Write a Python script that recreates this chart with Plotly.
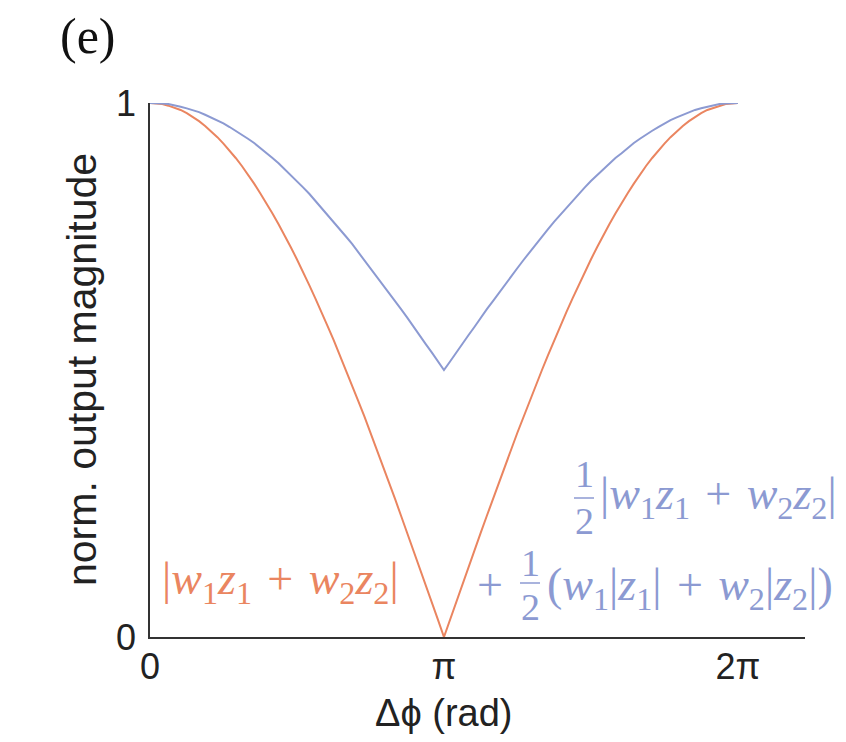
import plotly.graph_objects as go

# ---- data ----
dphi = [0.000, 0.065, 0.131, 0.196, 0.262, 0.327, 0.393, 0.458, 0.524, 0.589,
        0.654, 0.720, 0.785, 0.851, 0.916, 0.982, 1.047, 1.113, 1.178, 1.244,
        1.309, 1.374, 1.440, 1.505, 1.571, 1.636, 1.702, 1.767, 1.833, 1.898,
        1.963, 2.029, 2.094, 2.160, 2.225, 2.291, 2.356, 2.422, 2.487, 2.553,
        2.618, 2.683, 2.749, 2.814, 2.880, 2.945, 3.011, 3.076, 3.1416,
        3.207, 3.272, 3.338, 3.403, 3.469, 3.534, 3.600, 3.665, 3.731, 3.796,
        3.862, 3.927, 3.992, 4.058, 4.123, 4.189, 4.254, 4.320, 4.385, 4.451,
        4.516, 4.581, 4.647, 4.712, 4.778, 4.843, 4.909, 4.974, 5.040, 5.105,
        5.171, 5.236, 5.301, 5.367, 5.432, 5.498, 5.563, 5.629, 5.694, 5.760,
        5.825, 5.890, 5.956, 6.021, 6.087, 6.152, 6.218, 6.283]

orange_mag = [1.000, 0.999, 0.998, 0.995, 0.991, 0.987, 0.981, 0.974, 0.966, 0.957,
              0.947, 0.936, 0.924, 0.911, 0.897, 0.882, 0.866, 0.849, 0.831, 0.813,
              0.793, 0.773, 0.752, 0.730, 0.707, 0.684, 0.659, 0.634, 0.609, 0.582,
              0.556, 0.528, 0.500, 0.471, 0.442, 0.413, 0.383, 0.352, 0.321, 0.290,
              0.259, 0.227, 0.195, 0.163, 0.131, 0.098, 0.065, 0.033, 0.000,
              0.033, 0.065, 0.098, 0.131, 0.163, 0.195, 0.227, 0.259, 0.290, 0.321,
              0.352, 0.383, 0.413, 0.442, 0.471, 0.500, 0.528, 0.556, 0.582, 0.609,
              0.634, 0.659, 0.684, 0.707, 0.730, 0.752, 0.773, 0.793, 0.813, 0.831,
              0.849, 0.866, 0.882, 0.897, 0.911, 0.924, 0.936, 0.947, 0.957, 0.966,
              0.974, 0.981, 0.987, 0.991, 0.995, 0.998, 0.999, 1.000]

blue_mag = [1.000, 1.000, 0.999, 0.998, 0.996, 0.993, 0.990, 0.987, 0.983, 0.978,
            0.973, 0.968, 0.962, 0.955, 0.948, 0.941, 0.933, 0.925, 0.916, 0.906,
            0.897, 0.887, 0.876, 0.865, 0.854, 0.842, 0.830, 0.817, 0.804, 0.791,
            0.778, 0.764, 0.750, 0.736, 0.721, 0.706, 0.691, 0.676, 0.661, 0.645,
            0.629, 0.614, 0.598, 0.581, 0.565, 0.549, 0.533, 0.516, 0.500,
            0.516, 0.533, 0.549, 0.565, 0.581, 0.598, 0.614, 0.629, 0.645, 0.661,
            0.676, 0.691, 0.706, 0.721, 0.736, 0.750, 0.764, 0.778, 0.791, 0.804,
            0.817, 0.830, 0.842, 0.854, 0.865, 0.876, 0.887, 0.897, 0.906, 0.916,
            0.925, 0.933, 0.941, 0.948, 0.955, 0.962, 0.968, 0.973, 0.978, 0.983,
            0.987, 0.990, 0.993, 0.996, 0.998, 0.999, 1.000, 1.000]

x_tickvals = [0, 3.1416, 6.2832]
x_ticktext = ["0", "π", "2π"]
y_tickvals = [0, 1]
y_ticktext = ["0", "1"]

ORANGE = "#EA8560"
BLUE = "#8C9AD2"
SANS = "Liberation Sans, Arial, sans-serif"
SERIF = "Liberation Serif, Times New Roman, serif"

fig = go.Figure()
fig.add_trace(go.Scatter(x=dphi, y=orange_mag, mode="lines",
                         line=dict(color=ORANGE, width=2), showlegend=False))
fig.add_trace(go.Scatter(x=dphi, y=blue_mag, mode="lines",
                         line=dict(color=BLUE, width=2), showlegend=False))

fig.update_layout(
    width=846, height=742,
    margin=dict(l=150, r=41, t=103, b=105),
    paper_bgcolor="white", plot_bgcolor="white",
    font=dict(family=SANS, color="#222", size=36),
    xaxis=dict(range=[0, 7], tickvals=x_tickvals, ticktext=x_ticktext,
               showline=True, linecolor="#333", linewidth=1.5, ticks="",
               showgrid=False, zeroline=False, ticklabelstandoff=-3,
               tickfont=dict(size=36)),
    yaxis=dict(range=[0, 1], tickvals=y_tickvals, ticktext=y_ticktext,
               showline=True, linecolor="#333", linewidth=1.5, ticks="",
               showgrid=False, zeroline=False, ticklabelstandoff=5,
               tickfont=dict(size=36)),
)

def px(x):
    return (x - 150) / 655.0

def py(y):
    return (637 - y) / 534.0

SP = "\u2004"
MATH = 46
FRAC = 38
ann = []
ann.append(dict(text="(e)", x=px(58), y=py(36), xanchor="left", yanchor="middle",
                font=dict(family=SERIF, size=50, color="#111")))
ann.append(dict(text="Δϕ (rad)", x=px(443), y=py(713), xanchor="center", yanchor="middle",
                font=dict(family=SANS, size=38, color="#222")))
ann.append(dict(text="norm. output magnitude", x=px(82), y=py(370), textangle=-90,
                xanchor="center", yanchor="middle",
                font=dict(family=SANS, size=41, color="#222")))

math_o = ("|<i>w</i><sub>1</sub><i>z</i><sub>1</sub>" + SP + "+" + SP +
          "<i>w</i><sub>2</sub><i>z</i><sub>2</sub>|")
ann.append(dict(text=math_o, x=px(160), y=py(582), xanchor="left", yanchor="middle",
                font=dict(family=SERIF, size=MATH, color=ORANGE)))

# blue expression line 1
ann.append(dict(text="1", x=px(584), y=py(474), xanchor="center", yanchor="middle",
                font=dict(family=SERIF, size=FRAC, color=BLUE)))
ann.append(dict(text="2", x=px(584), y=py(521), xanchor="center", yanchor="middle",
                font=dict(family=SERIF, size=FRAC, color=BLUE)))
ann.append(dict(text=math_o, x=px(598), y=py(497), xanchor="left", yanchor="middle",
                font=dict(family=SERIF, size=MATH, color=BLUE)))
# blue expression line 2
ann.append(dict(text="+", x=px(490), y=py(584), xanchor="center", yanchor="middle",
                font=dict(family=SERIF, size=MATH, color=BLUE)))
ann.append(dict(text="1", x=px(530), y=py(563), xanchor="center", yanchor="middle",
                font=dict(family=SERIF, size=FRAC, color=BLUE)))
ann.append(dict(text="2", x=px(530), y=py(607), xanchor="center", yanchor="middle",
                font=dict(family=SERIF, size=FRAC, color=BLUE)))
math_b2 = ("(<i>w</i><sub>1</sub>|<i>z</i><sub>1</sub>|" + SP + "+" + SP +
           "<i>w</i><sub>2</sub>|<i>z</i><sub>2</sub>|)")
ann.append(dict(text=math_b2, x=px(545), y=py(588), xanchor="left", yanchor="middle",
                font=dict(family=SERIF, size=MATH, color=BLUE)))

for a in ann:
    a.update(xref="paper", yref="paper", showarrow=False)
fig.update_layout(annotations=ann)

fig.add_shape(type="line", xref="paper", yref="paper",
              x0=px(574), x1=px(594), y0=py(498), y1=py(498),
              line=dict(color=BLUE, width=1.5))
fig.add_shape(type="line", xref="paper", yref="paper",
              x0=px(520), x1=px(540), y0=py(583), y1=py(583),
              line=dict(color=BLUE, width=1.5))

fig.write_html("out.html")
